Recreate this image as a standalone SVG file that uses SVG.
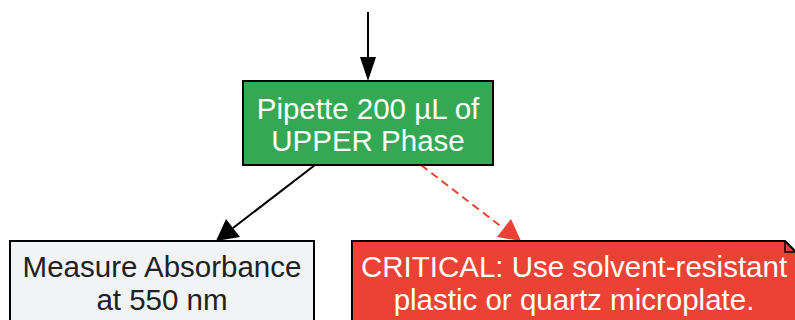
<svg xmlns="http://www.w3.org/2000/svg" width="795" height="320" viewBox="0 0 795 320">
<style>
text { font-family: "Liberation Sans", Arial, sans-serif; font-size: 29.5px; text-anchor: middle; }
.box { stroke: #000; stroke-width: 2; }
.white { fill: #ffffff; }
.dark { fill: #202124; }
.edge { fill: none; stroke: #000; stroke-width: 2; }
.crit { fill: none; stroke: #ea4335; stroke-width: 2; stroke-dasharray: 8,5; }
</style>
<g id="connectors">
<line class="edge" x1="368" y1="12" x2="368" y2="57"/>
<path d="M360,57 L376,57 L368,81 z" fill="#000"/>
<line class="edge" x1="315" y1="165" x2="233" y2="228"/>
<path d="M226,219 L240,237 L216,241 z" fill="#000"/>
<line class="crit" x1="421" y1="165" x2="503" y2="228"/>
<path d="M497,237 L511,219 L521,241 z" fill="#ea4335"/>
</g>
<g id="pipette">
<rect class="box" x="243" y="81" width="250" height="84" fill="#34a853"/>
<text class="white" x="368" y="119">Pipette 200 µL of</text>
<text class="white" x="368" y="151">UPPER Phase</text>
</g>
<g id="measure">
<rect class="box" x="10" y="241" width="304" height="100" fill="#f1f3f4"/>
<text class="dark" x="162" y="277">Measure Absorbance</text>
<text class="dark" x="162" y="310">at 550 nm</text>
</g>
<g id="critical">
<path class="box" d="M352,241 L785,241 L796,252 L796,341 L352,341 z" fill="#ea4335"/>
<path d="M785,241 L785,252 L796,252" fill="none" stroke="#000" stroke-width="1.5"/>
<text class="white" x="574" y="277">CRITICAL: Use solvent-resistant</text>
<text class="white" x="574" y="310">plastic or quartz microplate.</text>
</g>
</svg>
